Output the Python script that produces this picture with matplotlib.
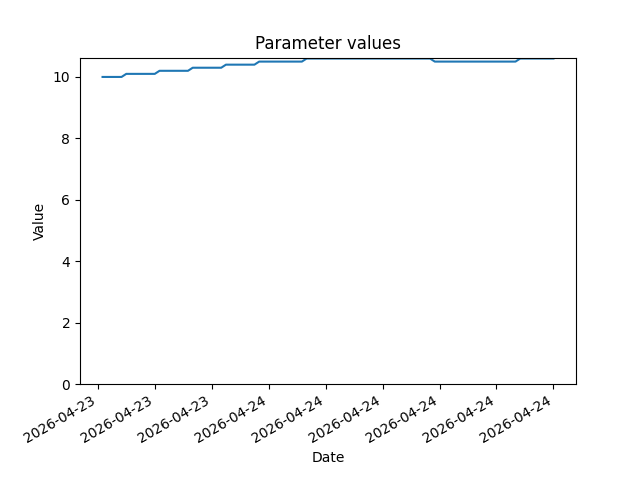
import matplotlib
matplotlib.use("Agg")
import matplotlib.pyplot as plt
import matplotlib.dates as mdates
import pandas as pd

# step breakpoints (start and end of each level)
times = ['2026-04-23 21:05', '2026-04-23 21:25',
         '2026-04-23 21:30', '2026-04-23 22:00',
         '2026-04-23 22:05', '2026-04-23 22:35',
         '2026-04-23 22:40', '2026-04-23 23:10',
         '2026-04-23 23:15', '2026-04-23 23:45',
         '2026-04-23 23:50', '2026-04-24 00:35',
         '2026-04-24 00:40', '2026-04-24 02:50',
         '2026-04-24 02:55', '2026-04-24 04:20',
         '2026-04-24 04:25', '2026-04-24 05:00']
values = [10.0, 10.0,
          10.1, 10.1,
          10.2, 10.2,
          10.3, 10.3,
          10.4, 10.4,
          10.5, 10.5,
          10.6, 10.6,
          10.5, 10.5,
          10.6, 10.6]

dates = pd.to_datetime(times)

fig, ax = plt.subplots(figsize=(6.4, 4.8), dpi=100)
ax.plot(dates, values)
# keep the autoscaled top, only pin the bottom at zero
ax.set_ylim(bottom=0)
ax.xaxis.set_major_formatter(mdates.DateFormatter('%Y-%m-%d'))
fig.autofmt_xdate()
ax.set_title('Parameter values')
ax.set_xlabel('Date')
ax.set_ylabel('Value')
fig.savefig('out.png')
